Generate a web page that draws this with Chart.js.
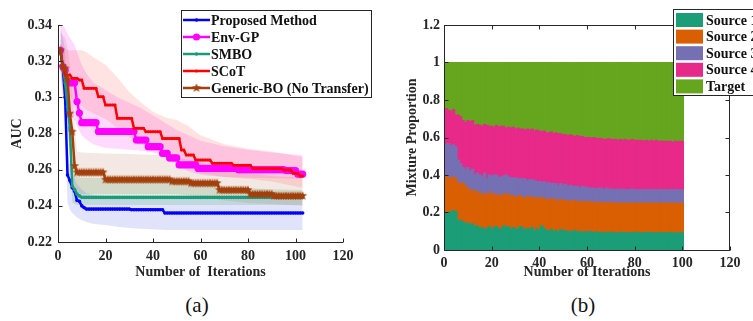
<!DOCTYPE html>
<html>
<head>
<meta charset="utf-8">
<title>AUC and mixture proportion</title>
<script src="https://cdn.jsdelivr.net/npm/chart.js@4/dist/chart.umd.min.js"></script>
<style>
  body { margin: 0; background: #fff; }
  #page { position: relative; width: 753px; height: 321px; overflow: hidden; font-family: "Liberation Serif", "Times New Roman", serif; }
  .box { position: absolute; top: 0; height: 290px; }
  #boxA { left: 0; width: 376px; }
  #boxB { left: 376px; width: 377px; }
  .cap { position: absolute; top: 292px; width: 60px; text-align: center; font-size: 21px; line-height: 26px; color: #111; }
</style>
</head>
<body>
<div id="page">
  <div class="box" id="boxA"><canvas id="chartA"></canvas></div>
  <div class="box" id="boxB"><canvas id="chartB"></canvas></div>
  <div class="cap" style="left:167px">(a)</div>
  <div class="cap" style="left:553px">(b)</div>
</div>
<script>
// ---- (a) AUC per iteration, mean curves ----
const proposed = [
  0.326, 0.317, 0.300, 0.257, 0.254, 0.250, 0.248, 0.243, 0.2425, 0.240,
  0.239, 0.2382, 0.2382, 0.2382, 0.2382, 0.2382, 0.2382, 0.2382, 0.2382, 0.2382,
  0.2382, 0.2382, 0.2382, 0.2382, 0.2382, 0.2382, 0.2382, 0.2382, 0.2382, 0.2382,
  0.2378, 0.2378, 0.2378, 0.2378, 0.2378, 0.2378, 0.2378, 0.2378, 0.2378, 0.2378,
  0.2378, 0.2378, 0.2378, 0.2378, 0.236, 0.236, 0.236, 0.236, 0.236, 0.236,
  0.236, 0.236, 0.236, 0.236, 0.236, 0.236, 0.236, 0.236, 0.236, 0.236,
  0.236, 0.236, 0.236, 0.236, 0.236, 0.236, 0.236, 0.236, 0.236, 0.236,
  0.236, 0.236, 0.236, 0.236, 0.236, 0.236, 0.236, 0.236, 0.236, 0.236,
  0.236, 0.236, 0.236, 0.236, 0.236, 0.236, 0.236, 0.236, 0.236, 0.236,
  0.236, 0.236, 0.236, 0.236, 0.236, 0.236, 0.236, 0.236, 0.236, 0.236,
  0.236, 0.236, 0.236
];
const envGP = [
  0.326, 0.317, 0.315, 0.308, 0.308, 0.308, 0.308, 0.2976, 0.2913, 0.286,
  0.286, 0.286, 0.286, 0.286, 0.286, 0.286, 0.2811, 0.2811, 0.2811, 0.2811,
  0.2811, 0.2811, 0.2811, 0.2811, 0.2811, 0.2811, 0.2811, 0.2811, 0.2811, 0.2811,
  0.2811, 0.2811, 0.2764, 0.2764, 0.2764, 0.2764, 0.2764, 0.2727, 0.2727, 0.2727,
  0.2727, 0.2727, 0.2727, 0.269, 0.269, 0.269, 0.2665, 0.2665, 0.2665, 0.2665,
  0.2626, 0.2626, 0.2626, 0.2626, 0.2626, 0.2626, 0.2626, 0.2626, 0.2607, 0.2607,
  0.2607, 0.2607, 0.2607, 0.2607, 0.2607, 0.2607, 0.2607, 0.2607, 0.2607, 0.2607,
  0.2607, 0.2607, 0.2607, 0.2607, 0.2607, 0.2600, 0.2600, 0.2600, 0.2600, 0.2600,
  0.2600, 0.2600, 0.2600, 0.2600, 0.2600, 0.2600, 0.2600, 0.2600, 0.2600, 0.2600,
  0.2600, 0.2600, 0.2600, 0.2600, 0.2600, 0.2595, 0.2595, 0.2595, 0.2595, 0.2595,
  0.2575, 0.2575, 0.2575
];
const smbo = [
  0.326, 0.317, 0.308, 0.295, 0.283, 0.251, 0.249, 0.2465, 0.2455, 0.2447,
  0.2447, 0.2447, 0.2447, 0.2447, 0.2447, 0.2447, 0.2447, 0.2447, 0.2447, 0.2447,
  0.2447, 0.2447, 0.2447, 0.2447, 0.2447, 0.2447, 0.2447, 0.2447, 0.2447, 0.2447,
  0.2447, 0.2447, 0.2447, 0.2447, 0.2447, 0.2447, 0.2447, 0.2447, 0.2447, 0.2447,
  0.2447, 0.2447, 0.2447, 0.2447, 0.2447, 0.2447, 0.2447, 0.2447, 0.2447, 0.2447,
  0.2447, 0.2447, 0.2447, 0.2447, 0.2447, 0.2447, 0.2447, 0.2447, 0.2447, 0.2447,
  0.2447, 0.2447, 0.2447, 0.2447, 0.2447, 0.2447, 0.2447, 0.2447, 0.2447, 0.2447,
  0.2447, 0.2447, 0.2447, 0.2447, 0.2447, 0.2447, 0.2447, 0.2447, 0.2447, 0.2447,
  0.2447, 0.2447, 0.2447, 0.2447, 0.2447, 0.2447, 0.2447, 0.2447, 0.2447, 0.2447,
  0.2447, 0.2447, 0.2447, 0.2447, 0.2447, 0.2447, 0.2447, 0.2447, 0.2447, 0.2447,
  0.2447, 0.2447, 0.2447
];
const scot = [
  0.326, 0.317, 0.3124, 0.3124, 0.3124, 0.3105, 0.3105, 0.3105, 0.3096, 0.3096,
  0.305, 0.305, 0.305, 0.305, 0.305, 0.305, 0.3003, 0.3003, 0.3003, 0.2957,
  0.2957, 0.2957, 0.2957, 0.2957, 0.2884, 0.2884, 0.2884, 0.2884, 0.2884, 0.2884,
  0.2884, 0.2829, 0.2829, 0.2829, 0.2829, 0.2829, 0.281, 0.281, 0.281, 0.281,
  0.281, 0.281, 0.281, 0.2773, 0.2773, 0.2773, 0.2773, 0.2773, 0.2773, 0.2773,
  0.2773, 0.2709, 0.2709, 0.2681, 0.2681, 0.2681, 0.2681, 0.2653, 0.2653, 0.2653,
  0.2653, 0.2653, 0.2653, 0.2653, 0.2635, 0.2635, 0.2635, 0.2635, 0.2635, 0.2635,
  0.2635, 0.2635, 0.2635, 0.2625, 0.2625, 0.2625, 0.2625, 0.2625, 0.2625, 0.2625,
  0.2625, 0.2607, 0.2607, 0.2607, 0.2607, 0.2607, 0.2607, 0.2607, 0.2607, 0.2607,
  0.2607, 0.2607, 0.2607, 0.2607, 0.2598, 0.2598, 0.2598, 0.2598, 0.258, 0.258,
  0.258, 0.2565, 0.2565
];
const genericBO = [
  0.326, 0.317, 0.316, 0.310, 0.291, 0.281, 0.262, 0.2585, 0.2585, 0.2585,
  0.2585, 0.2585, 0.2585, 0.2585, 0.2585, 0.2585, 0.2585, 0.2585, 0.2585, 0.2545,
  0.2545, 0.2545, 0.2545, 0.2545, 0.2545, 0.2545, 0.2545, 0.2545, 0.2545, 0.2545,
  0.2545, 0.2545, 0.2545, 0.2545, 0.2545, 0.2545, 0.2545, 0.2545, 0.2545, 0.2545,
  0.2545, 0.2545, 0.2545, 0.2545, 0.2545, 0.2545, 0.2545, 0.2535, 0.2535, 0.2535,
  0.2535, 0.2535, 0.2535, 0.2535, 0.2535, 0.2525, 0.2525, 0.2525, 0.2525, 0.2525,
  0.2525, 0.2525, 0.2525, 0.2525, 0.2525, 0.2525, 0.2525, 0.2487, 0.2487, 0.2487,
  0.2487, 0.2487, 0.2487, 0.2487, 0.2487, 0.2487, 0.2487, 0.2487, 0.2487, 0.2487,
  0.2465, 0.2465, 0.2465, 0.2465, 0.2465, 0.2465, 0.2465, 0.2465, 0.2465, 0.2465,
  0.2455, 0.2455, 0.2455, 0.2455, 0.2455, 0.2455, 0.2455, 0.2455, 0.2455, 0.2455,
  0.2455, 0.2455, 0.2455
];

// ---- (a) spread bands, read at these iterations ----
const bandIters = [1, 2, 3, 4, 5, 6, 7, 8, 10, 12, 15, 20, 25, 30, 35, 40, 45, 50, 55, 60, 70, 80, 90, 103];
const proposedHi = [0.338, 0.334, 0.326, 0.272, 0.262, 0.258, 0.255, 0.252, 0.249, 0.247, 0.246, 0.2455, 0.2455, 0.2455, 0.2455, 0.2455, 0.2455, 0.2455, 0.2455, 0.2455, 0.2455, 0.2455, 0.2455, 0.2455];
const proposedLo = [0.316, 0.306, 0.285, 0.242, 0.238, 0.236, 0.235, 0.2335, 0.232, 0.231, 0.230, 0.2294, 0.2285, 0.2278, 0.2273, 0.227, 0.2266, 0.2266, 0.2266, 0.2266, 0.2266, 0.2266, 0.2266, 0.2266];
const envGPHi = [0.342, 0.340, 0.338, 0.335, 0.333, 0.331, 0.329, 0.325, 0.318, 0.313, 0.308, 0.304, 0.300, 0.297, 0.294, 0.290, 0.286, 0.282, 0.279, 0.276, 0.273, 0.271, 0.2695, 0.268];
const envGPLo = [0.312, 0.302, 0.298, 0.294, 0.292, 0.290, 0.287, 0.284, 0.279, 0.2765, 0.274, 0.272, 0.2715, 0.271, 0.2705, 0.2695, 0.268, 0.263, 0.259, 0.257, 0.256, 0.2555, 0.2553, 0.255];
const smboHi = [0.330, 0.325, 0.318, 0.305, 0.292, 0.262, 0.258, 0.256, 0.2555, 0.2555, 0.2555, 0.2553, 0.2553, 0.2552, 0.2552, 0.2552, 0.2552, 0.2552, 0.255, 0.253, 0.2505, 0.2497, 0.2492, 0.2487];
const smboLo = [0.320, 0.308, 0.300, 0.280, 0.270, 0.242, 0.241, 0.2405, 0.2405, 0.2405, 0.2405, 0.2405, 0.2405, 0.2405, 0.2405, 0.2405, 0.2405, 0.2405, 0.2405, 0.2405, 0.2405, 0.2405, 0.2405, 0.2405];
const scotHi = [0.330, 0.328, 0.327, 0.326, 0.326, 0.326, 0.326, 0.326, 0.326, 0.325, 0.322, 0.318, 0.311, 0.303, 0.297, 0.292, 0.289, 0.2875, 0.284, 0.279, 0.274, 0.2715, 0.270, 0.267];
const scotLo = [0.322, 0.310, 0.304, 0.302, 0.300, 0.299, 0.298, 0.297, 0.295, 0.293, 0.291, 0.288, 0.283, 0.278, 0.274, 0.272, 0.270, 0.266, 0.262, 0.258, 0.256, 0.255, 0.2535, 0.250];
const genericHi = [0.336, 0.334, 0.333, 0.328, 0.318, 0.305, 0.285, 0.270, 0.2695, 0.2693, 0.2692, 0.269, 0.2688, 0.2686, 0.2684, 0.2682, 0.268, 0.2665, 0.2655, 0.264, 0.261, 0.258, 0.2565, 0.2555];
const genericLo = [0.316, 0.302, 0.298, 0.290, 0.268, 0.258, 0.249, 0.247, 0.2465, 0.2465, 0.2465, 0.2465, 0.2465, 0.2465, 0.2465, 0.2465, 0.2465, 0.2465, 0.2458, 0.245, 0.243, 0.2415, 0.241, 0.240];

// ---- (b) mixture proportion per iteration ----
const source1 = [
  0.200, 0.200, 0.205, 0.210, 0.205, 0.155, 0.160, 0.150, 0.140, 0.145,
  0.135, 0.140, 0.125, 0.130, 0.115, 0.120, 0.110, 0.115, 0.125, 0.110,
  0.120, 0.125, 0.115, 0.110, 0.130, 0.120, 0.125, 0.110, 0.120, 0.115,
  0.110, 0.125, 0.120, 0.105, 0.115, 0.110, 0.120, 0.100, 0.115, 0.105,
  0.130, 0.115, 0.105, 0.100, 0.110, 0.100, 0.105, 0.095, 0.110, 0.100,
  0.105, 0.100, 0.095, 0.100, 0.105, 0.095, 0.100, 0.090, 0.098, 0.095,
  0.100, 0.095, 0.092, 0.098, 0.093, 0.095, 0.090, 0.094, 0.092, 0.096,
  0.090, 0.093, 0.091, 0.095, 0.092, 0.094, 0.090, 0.093, 0.092, 0.095,
  0.091, 0.094, 0.090, 0.093, 0.092, 0.095, 0.091, 0.093, 0.090, 0.094,
  0.092, 0.090, 0.093, 0.091, 0.094, 0.092, 0.090, 0.093, 0.091, 0.092
];
const source2 = [
  0.190, 0.185, 0.175, 0.180, 0.175, 0.200, 0.190, 0.210, 0.200, 0.185,
  0.185, 0.170, 0.195, 0.170, 0.195, 0.170, 0.190, 0.180, 0.185, 0.180,
  0.180, 0.165, 0.180, 0.175, 0.170, 0.170, 0.175, 0.175, 0.170, 0.165,
  0.175, 0.165, 0.160, 0.170, 0.170, 0.170, 0.165, 0.170, 0.165, 0.170,
  0.150, 0.160, 0.165, 0.165, 0.165, 0.170, 0.160, 0.165, 0.160, 0.165,
  0.160, 0.160, 0.165, 0.165, 0.155, 0.165, 0.155, 0.170, 0.157, 0.163,
  0.155, 0.163, 0.158, 0.157, 0.159, 0.160, 0.160, 0.159, 0.158, 0.159,
  0.160, 0.157, 0.159, 0.155, 0.158, 0.156, 0.160, 0.157, 0.158, 0.155,
  0.159, 0.156, 0.160, 0.157, 0.158, 0.155, 0.159, 0.157, 0.160, 0.156,
  0.158, 0.160, 0.157, 0.159, 0.156, 0.158, 0.160, 0.157, 0.159, 0.156
];
const source3 = [
  0.175, 0.182, 0.175, 0.170, 0.170, 0.125, 0.110, 0.080, 0.090, 0.110,
  0.100, 0.120, 0.080, 0.110, 0.090, 0.100, 0.110, 0.085, 0.090, 0.105,
  0.100, 0.110, 0.090, 0.105, 0.095, 0.110, 0.090, 0.100, 0.095, 0.105,
  0.095, 0.090, 0.100, 0.105, 0.085, 0.095, 0.090, 0.100, 0.085, 0.090,
  0.080, 0.090, 0.085, 0.095, 0.080, 0.085, 0.090, 0.080, 0.085, 0.080,
  0.085, 0.080, 0.085, 0.075, 0.080, 0.080, 0.075, 0.080, 0.080, 0.077,
  0.075, 0.072, 0.080, 0.070, 0.078, 0.075, 0.070, 0.077, 0.075, 0.070,
  0.075, 0.072, 0.075, 0.070, 0.075, 0.072, 0.070, 0.073, 0.075, 0.070,
  0.072, 0.070, 0.073, 0.070, 0.072, 0.070, 0.073, 0.070, 0.072, 0.070,
  0.073, 0.070, 0.072, 0.070, 0.072, 0.070, 0.073, 0.070, 0.072, 0.072
];
const source4 = [
  0.189, 0.178, 0.185, 0.190, 0.170, 0.240, 0.250, 0.250, 0.250, 0.250,
  0.265, 0.260, 0.265, 0.260, 0.265, 0.270, 0.260, 0.285, 0.260, 0.265,
  0.255, 0.265, 0.270, 0.270, 0.265, 0.250, 0.265, 0.265, 0.270, 0.260,
  0.270, 0.265, 0.265, 0.260, 0.275, 0.265, 0.270, 0.265, 0.275, 0.270,
  0.270, 0.270, 0.270, 0.265, 0.275, 0.265, 0.270, 0.280, 0.265, 0.270,
  0.265, 0.270, 0.270, 0.270, 0.265, 0.270, 0.275, 0.265, 0.265, 0.265,
  0.270, 0.265, 0.270, 0.270, 0.265, 0.265, 0.270, 0.260, 0.270, 0.265,
  0.265, 0.268, 0.260, 0.270, 0.260, 0.268, 0.265, 0.262, 0.265, 0.265,
  0.263, 0.265, 0.262, 0.260, 0.263, 0.260, 0.262, 0.260, 0.263, 0.260,
  0.257, 0.260, 0.258, 0.260, 0.258, 0.255, 0.257, 0.258, 0.258, 0.260
];
const target = [
  0.246, 0.255, 0.260, 0.250, 0.280, 0.280, 0.290, 0.310, 0.320, 0.310,
  0.315, 0.310, 0.335, 0.330, 0.335, 0.340, 0.330, 0.335, 0.340, 0.340,
  0.345, 0.335, 0.345, 0.340, 0.340, 0.350, 0.345, 0.350, 0.345, 0.355,
  0.350, 0.355, 0.355, 0.360, 0.355, 0.360, 0.355, 0.365, 0.360, 0.365,
  0.370, 0.365, 0.375, 0.375, 0.370, 0.380, 0.375, 0.380, 0.380, 0.385,
  0.385, 0.390, 0.385, 0.390, 0.395, 0.390, 0.395, 0.395, 0.400, 0.400,
  0.400, 0.405, 0.400, 0.405, 0.405, 0.405, 0.410, 0.410, 0.405, 0.410,
  0.410, 0.410, 0.415, 0.410, 0.415, 0.410, 0.415, 0.415, 0.410, 0.415,
  0.415, 0.415, 0.415, 0.420, 0.415, 0.420, 0.415, 0.420, 0.415, 0.420,
  0.420, 0.420, 0.420, 0.420, 0.420, 0.425, 0.420, 0.422, 0.420, 0.420
];

const xTicks = [0, 20, 40, 60, 80, 100, 120];
const aucTicks = [0.22, 0.24, 0.26, 0.28, 0.3, 0.32, 0.34];
const mixTicks = [0, 0.2, 0.4, 0.6, 0.8, 1, 1.2];

const iterations = Array.from({ length: proposed.length }, (_, i) => i + 1);
const mixIterations = Array.from({ length: source1.length }, (_, i) => i + 1);

const axisColor = '#262626';
Chart.defaults.font.family = '"Liberation Serif", "Times New Roman", serif';
Chart.defaults.font.size = 14;
Chart.defaults.font.weight = 'bold';
Chart.defaults.color = axisColor;

function pts(xs, ys) {
  return ys.map((y, i) => ({ x: xs[i], y: y }));
}

// filled five point star used as marker for Generic-BO
function makeStar(color, r) {
  const c = document.createElement('canvas');
  const s = Math.ceil(r * 2) + 2;
  c.width = s; c.height = s;
  const g = c.getContext('2d');
  g.fillStyle = color;
  g.beginPath();
  for (let i = 0; i < 10; i++) {
    const rr = i % 2 ? r * 0.42 : r;
    const a = -Math.PI / 2 + i * Math.PI / 5;
    const px = s / 2 + rr * Math.cos(a), py = s / 2 + rr * Math.sin(a);
    if (i) g.lineTo(px, py); else g.moveTo(px, py);
  }
  g.closePath();
  g.fill();
  return c;
}

// axes drawn like matlab: ticks pointing inward, optional full box
const boxAxes = {
  id: 'boxAxes',
  afterDatasetsDraw(chart, args, opts) {
    const { ctx, chartArea: a, scales } = chart;
    const x = scales.x, y = scales.y, t = opts.tick;
    ctx.save();
    ctx.strokeStyle = axisColor;
    ctx.lineWidth = 1;
    ctx.beginPath();
    const L = Math.round(a.left) + 0.5, B = Math.round(a.bottom) + 0.5;
    const R = Math.round(a.right) - 0.5, T = Math.round(a.top) + 0.5;
    ctx.moveTo(L, T - 0.5); ctx.lineTo(L, B); ctx.lineTo(R + 0.5, B);
    if (opts.full) { ctx.moveTo(L, T); ctx.lineTo(R, T); ctx.lineTo(R, B); }
    x.ticks.forEach(tk => {
      const px = Math.round(x.getPixelForValue(tk.value)) + 0.5;
      ctx.moveTo(px, B); ctx.lineTo(px, B - t);
      if (opts.full) { ctx.moveTo(px, T); ctx.lineTo(px, T + t); }
    });
    y.ticks.forEach(tk => {
      const py = Math.round(y.getPixelForValue(tk.value)) + 0.5;
      ctx.moveTo(L, py); ctx.lineTo(L + t, py);
      if (opts.full) { ctx.moveTo(R, py); ctx.lineTo(R - t, py); }
    });
    ctx.stroke();
    ctx.restore();
  }
};

// boxed legend placed at fixed spot
const boxLegend = {
  id: 'boxLegend',
  afterDraw(chart, args, o) {
    const ctx = chart.ctx;
    const items = chart.data.datasets.filter(d => d.inLegend);
    ctx.save();
    ctx.fillStyle = '#fff';
    ctx.fillRect(o.x, o.y, o.w, o.h);
    ctx.strokeStyle = axisColor;
    ctx.lineWidth = 1;
    ctx.strokeRect(o.x + 0.5, o.y + 0.5, o.w, o.h);
    ctx.font = 'bold 14px "Liberation Serif", serif';
    ctx.textBaseline = 'middle';
    items.forEach((d, i) => {
      const cy = o.y + o.first + i * o.step;
      if (o.kind === 'line') {
        ctx.strokeStyle = d.borderColor;
        ctx.lineWidth = 2.5;
        ctx.beginPath();
        ctx.moveTo(o.x + 2, cy); ctx.lineTo(o.x + 29, cy);
        ctx.stroke();
        const mx = o.x + 15.5;
        if (typeof d.pointStyle === 'object') {
          ctx.drawImage(d.pointStyle, mx - d.pointStyle.width / 2, cy - d.pointStyle.height / 2);
        } else {
          ctx.fillStyle = d.borderColor;
          ctx.beginPath();
          ctx.arc(mx, cy, d.pointRadius, 0, Math.PI * 2);
          ctx.fill();
        }
        ctx.fillStyle = '#111';
        ctx.fillText(d.label, o.x + 30, cy + 1);
      } else {
        ctx.fillStyle = d.backgroundColor;
        ctx.fillRect(o.x + 3, cy - 7, 27, 14);
        ctx.fillStyle = '#111';
        ctx.fillText(d.label, o.x + 33, cy + 1);
      }
    });
    ctx.restore();
  }
};

function lineSet(label, values, color, style, radius, order) {
  return {
    label: label, data: pts(iterations, values), borderColor: color, backgroundColor: color,
    borderWidth: 2.5, pointStyle: style, pointRadius: radius, pointBorderWidth: 0,
    pointHoverRadius: radius, fill: false, order: order, inLegend: true
  };
}
function bandSet(hi, lo, color, order) {
  return [
    { data: pts(bandIters, hi), borderWidth: 0, pointRadius: 0, fill: '+1', backgroundColor: color, order: order },
    { data: pts(bandIters, lo), borderWidth: 0, pointRadius: 0, fill: false, order: order }
  ];
}

const star = makeStar('#a3400c', 4.8);

new Chart(document.getElementById('chartA'), {
  type: 'line',
  data: {
    datasets: [
      lineSet('Proposed Method', proposed, '#0000ff', 'circle', 1.8, 5),
      lineSet('Env-GP', envGP, '#ff00ff', 'circle', 3.6, 4),
      lineSet('SMBO', smbo, '#1b9a78', 'circle', 1.8, 3),
      lineSet('SCoT', scot, '#ff0000', 'circle', 1.5, 2),
      lineSet('Generic-BO (No Transfer)', genericBO, '#a3400c', star, 4, 1),
      ...bandSet(proposedHi, proposedLo, 'rgba(70,80,230,0.16)', 15),
      ...bandSet(smboHi, smboLo, 'rgba(40,160,90,0.18)', 14),
      ...bandSet(genericHi, genericLo, 'rgba(170,90,60,0.14)', 13),
      ...bandSet(envGPHi, envGPLo, 'rgba(255,60,240,0.19)', 12),
      ...bandSet(scotHi, scotLo, 'rgba(255,60,60,0.15)', 11)
    ]
  },
  options: {
    responsive: true,
    maintainAspectRatio: false,
    animation: false,
    layout: { padding: { top: 25, right: 33, bottom: 0, left: 0 } },
    plugins: {
      legend: { display: false },
      tooltip: { enabled: false },
      boxAxes: { full: false, tick: 4 },
      boxLegend: { x: 181, y: 10, w: 190, h: 87, first: 10, step: 17, kind: 'line' }
    },
    scales: {
      x: {
        type: 'linear', min: 0, max: 120,
        grid: { display: false, drawTicks: false }, border: { display: false },
        afterBuildTicks: s => { s.ticks = xTicks.map(v => ({ value: v })); },
        ticks: { padding: 6 },
        title: { display: true, text: 'Number of  Iterations', padding: { top: 0, bottom: 9 } },
        afterFit: s => { s.height = 48; }
      },
      y: {
        min: 0.22, max: 0.34,
        grid: { display: false, drawTicks: false }, border: { display: false },
        afterBuildTicks: s => { s.ticks = aucTicks.map(v => ({ value: v })); },
        ticks: { padding: 6, callback: v => String(Math.round(v * 100) / 100) },
        title: { display: true, text: 'AUC', padding: { top: 9, bottom: 0 } },
        afterFit: s => { s.width = 58; }
      }
    }
  },
  plugins: [boxAxes, boxLegend]
});

function barSet(label, values, color) {
  return {
    label: label, data: pts(mixIterations, values), backgroundColor: color,
    borderWidth: 0, barPercentage: 1, categoryPercentage: 1, inflateAmount: 0.5, inLegend: true
  };
}

new Chart(document.getElementById('chartB'), {
  type: 'bar',
  data: {
    datasets: [
      barSet('Source 1', source1, '#1b9e77'),
      barSet('Source 2', source2, '#d95f02'),
      barSet('Source 3', source3, '#7570b3'),
      barSet('Source 4', source4, '#e7298a'),
      barSet('Target', target, '#66a61e')
    ]
  },
  options: {
    responsive: true,
    maintainAspectRatio: false,
    animation: false,
    layout: { padding: { top: 25, right: 23, bottom: 0, left: 0 } },
    plugins: {
      legend: { display: false },
      tooltip: { enabled: false },
      boxAxes: { full: true, tick: 4 },
      boxLegend: { x: 297, y: 9, w: 120, h: 86, first: 11, step: 16.6, kind: 'box' }
    },
    scales: {
      x: {
        type: 'linear', min: 0, max: 120, offset: false, stacked: true,
        grid: { display: false, drawTicks: false, offset: false }, border: { display: false },
        afterBuildTicks: s => { s.ticks = xTicks.map(v => ({ value: v })); },
        ticks: { padding: 5 },
        title: { display: true, text: 'Number of Iterations', padding: { top: 0, bottom: 9 } },
        afterFit: s => { s.height = 40; }
      },
      y: {
        min: 0, max: 1.2, stacked: true,
        grid: { display: false, drawTicks: false }, border: { display: false },
        afterBuildTicks: s => { s.ticks = mixTicks.map(v => ({ value: v })); },
        ticks: { padding: 4, callback: v => String(Math.round(v * 10) / 10) },
        title: { display: true, text: 'Mixture Proportion', padding: { top: 28, bottom: 0 } },
        afterFit: s => { s.width = 68; }
      }
    }
  },
  plugins: [boxAxes, boxLegend]
});
</script>
</body>
</html>
